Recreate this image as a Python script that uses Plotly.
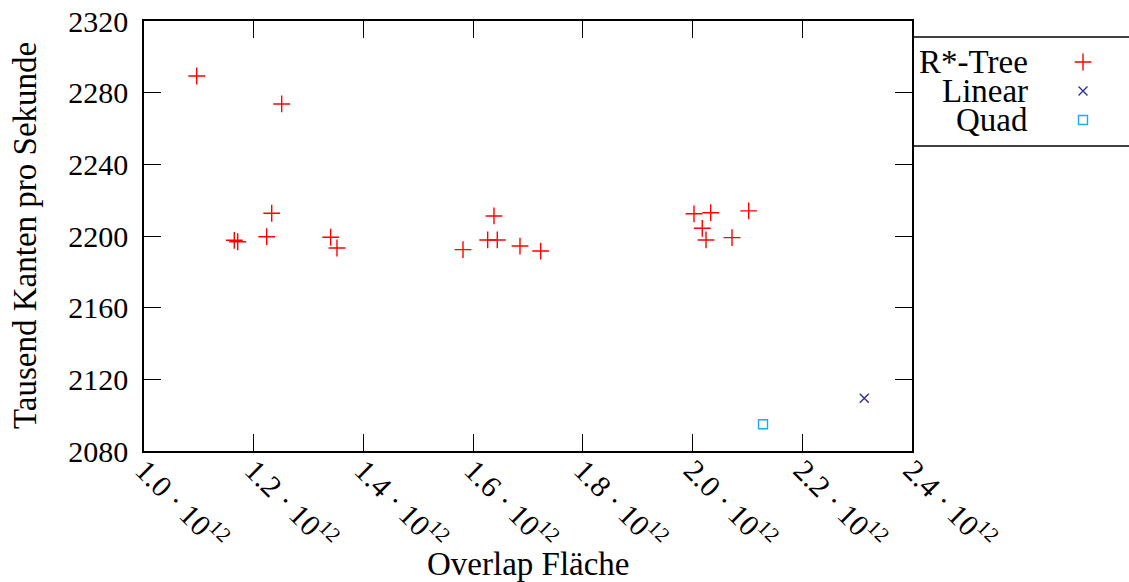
import plotly.graph_objects as go

# ---- data (x in units of 1e12) ----
series_names = ["R*-Tree", "Linear", "Quad"]
rtree_x = [1.0961, 1.2510, 1.1646, 1.1708, 1.2328, 1.2237, 1.3403, 1.3518, 1.5815, 1.6265,
           1.6440, 1.6380, 1.6854, 1.7231, 2.0026, 2.0331, 2.0177, 2.0245, 2.0719, 2.1023]
rtree_y = [2289.3, 2273.7, 2197.6, 2196.8, 2212.7, 2199.6, 2199.3, 2193.3, 2192.4, 2197.8,
           2197.8, 2211.2, 2194.4, 2191.6, 2212.4, 2213.0, 2204.3, 2197.8, 2199.1, 2214.0]
linear_x = [2.3130]
linear_y = [2109.4]
quad_x = [2.1284]
quad_y = [2094.9]
x_ticks = [1.0, 1.2, 1.4, 1.6, 1.8, 2.0, 2.2, 2.4]
y_ticks = [2080, 2120, 2160, 2200, 2240, 2280, 2320]
x_title = "Overlap Fläche"
y_title = "Tausend Kanten pro Sekunde"

# ---- layout geometry (pixels) ----
W, H = 1129, 582
L, R, T, B = 144, 912, 21, 451
FONT = "'Liberation Serif', 'DejaVu Serif', serif"
FS = 30      # tick labels
FS_T = 33    # titles / legend

def px(x):
    return x / W

def py(y):
    return 1 - y / H

colors = ["#ff0000", "#2e2e9e", "#1ea8ee"]
symbols = ["cross-thin", "x-thin", "square-open"]
sizes = [12, 9, 9]

fig = go.Figure()
data = [(rtree_x, rtree_y), (linear_x, linear_y), (quad_x, quad_y)]
for (xs, ys), name, c, s, sz in zip(data, series_names, colors, symbols, sizes):
    fig.add_trace(go.Scatter(
        x=[v * 1e12 for v in xs], y=ys, mode="markers", name=name,
        marker=dict(symbol=s, size=sz, color=c, line=dict(color=c, width=1.4)),
        showlegend=False, xaxis="x", yaxis="y"))

# custom legend (text left of symbol, like gnuplot)
leg_top, leg_bot = 37, 146
row_y = [62, 91, 120]
sym_x = 1083
txt_x = 1030
for name, c, s, sz, ry in zip(series_names, colors, symbols, sizes, row_y):
    fig.add_trace(go.Scatter(
        x=[(sym_x - R) / (W - R)], y=[(leg_bot - ry) / (leg_bot - leg_top)],
        mode="markers", marker=dict(symbol=s, size=sz, color=c, line=dict(color=c, width=1.4)),
        showlegend=False, xaxis="x2", yaxis="y2", hoverinfo="skip"))
    fig.add_annotation(x=px(txt_x), y=py(ry), xref="paper", yref="paper",
                       text=name, showarrow=False, xanchor="right", yanchor="middle",
                       font=dict(family=FONT, size=FS_T, color="black"))

for yy in (leg_top, leg_bot):
    fig.add_shape(type="line", xref="paper", yref="paper",
                  x0=px(R), x1=1, y0=py(yy), y1=py(yy),
                  line=dict(color="black", width=1.3))

fig.add_annotation(x=px((L + R) / 2), y=py(564), xref="paper", yref="paper",
                   text=x_title, showarrow=False, xanchor="center", yanchor="middle",
                   font=dict(family=FONT, size=FS_T, color="black"))
fig.add_annotation(x=px(25), y=py((T + B) / 2), xref="paper", yref="paper",
                   text=y_title, showarrow=False, textangle=-90,
                   xanchor="center", yanchor="middle",
                   font=dict(family=FONT, size=FS_T, color="black"))

fig.update_layout(
    width=W, height=H,
    margin=dict(l=0, r=0, t=0, b=0),
    paper_bgcolor="white", plot_bgcolor="white",
    font=dict(family=FONT, size=FS, color="black"),
    xaxis=dict(domain=[px(L), px(R)], range=[1.0e12, 2.4e12],
               tickvals=[v * 1e12 for v in x_ticks],
               ticktext=[f"{v:.1f} · 10<sup>12</sup>" for v in x_ticks],
               tickangle=45, ticks="inside", ticklen=17, tickwidth=1.2, tickcolor="black",
               showline=True, linecolor="black", linewidth=1.5, mirror="ticks",
               showgrid=False, zeroline=False, automargin=False, ticklabelstandoff=-12,
               tickfont=dict(family=FONT, size=FS)),
    yaxis=dict(domain=[py(B), py(T)], range=[2080, 2320],
               tickvals=y_ticks, ticks="inside", ticklen=17, tickwidth=1.2, tickcolor="black",
               showline=True, linecolor="black", linewidth=1.5, mirror="ticks",
               showgrid=False, zeroline=False, automargin=False, ticklabelstandoff=8,
               tickfont=dict(family=FONT, size=FS)),
    xaxis2=dict(domain=[px(R), 1], range=[0, 1], visible=False, anchor="y2"),
    yaxis2=dict(domain=[py(leg_bot), py(leg_top)], range=[0, 1], visible=False, anchor="x2"),
)

fig.write_html("out.html", config={"displayModeBar": False},
               post_script="document.body.style.margin='0px';")
